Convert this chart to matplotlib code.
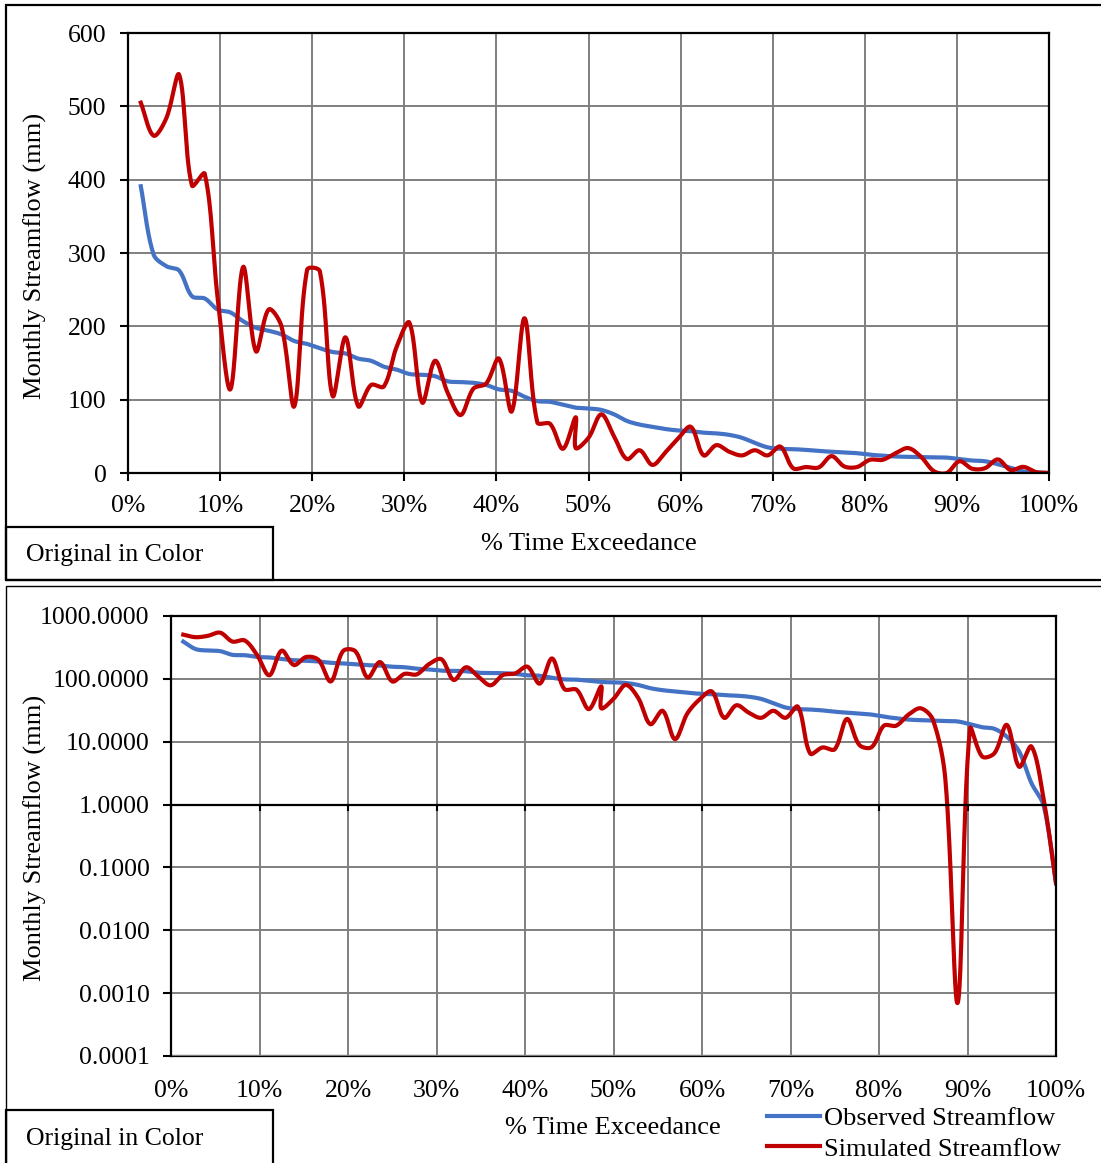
import numpy as np
import matplotlib
matplotlib.use('Agg')
import matplotlib.pyplot as plt
from matplotlib.patches import Rectangle
from matplotlib.lines import Line2D
from matplotlib.ticker import NullLocator

plt.rcParams['font.family'] = ['Liberation Serif', 'DejaVu Serif']

# monthly flows ranked by observed value (72 months, one tie at rank 35)
n_months = 72
ranks = list(range(1, 36)) + [35] + list(range(36, 73))

observed = [391, 298, 282, 276, 241, 238, 223, 219, 207, 198,
            194, 189, 180, 176, 170, 165, 163, 156, 153, 145,
            141, 135, 134, 132, 125, 124, 123, 120, 114, 112,
            104, 98, 97, 93, 89, 89, 88, 86, 80, 71,
            66, 63, 60, 58, 57, 55, 54, 52, 48, 41,
            35, 33, 32.5, 31.5, 30, 29, 28, 27, 25, 23.6,
            22.5, 22, 21.7, 21.3, 21, 19, 17, 16, 12, 7,
            2.2, 0.95, 0.056]

simulated = [505, 460, 484, 543, 392, 408, 240, 114, 281, 166,
             223, 200, 91, 277, 275, 105, 185, 91, 120, 118,
             172, 205, 96, 153, 109, 79, 115, 122, 156, 84,
             211, 69, 67, 33, 76, 34, 48, 80, 50, 19,
             31, 11, 28, 47, 63, 24, 38, 29, 24, 31,
             24, 36, 6.5, 8.1, 7.6, 23, 8.9, 8.2, 18, 18,
             27, 34, 22, 2.5, 0.0007, 16, 5.8, 6.6, 18.5, 4.0,
             8.4, 1.2, 0.056]

pct_ticks = [0, 10, 20, 30, 40, 50, 60, 70, 80, 90, 100]
lin_ticks = [0, 100, 200, 300, 400, 500, 600]
log_ticks = [0.0001, 0.001, 0.01, 0.1, 1, 10, 100, 1000]

BLUE = '#4472C4'
RED = '#C00000'
GRID = '#7f7f7f'
W, H = 1101, 1163

exceed = np.array(ranks) / n_months * 100


def smooth(ax, x, y, steps=30):
    # Excel-like smoothed line, built in screen space so it also works on log axes
    p = ax.transData.transform(np.column_stack([x, y]))
    p = np.vstack([p[0], p, p[-1]])
    t = np.linspace(0, 1, steps, endpoint=False)[:, None]
    out = []
    for i in range(1, len(p) - 2):
        p0, p1, p2, p3 = p[i - 1], p[i], p[i + 1], p[i + 2]
        d01 = np.hypot(*(p1 - p0))
        d12 = np.hypot(*(p2 - p1))
        d23 = np.hypot(*(p3 - p2))
        f1 = d12 / (d01 + d12) / 3 if d01 + d12 > 0 else 0
        f2 = d12 / (d12 + d23) / 3 if d12 + d23 > 0 else 0
        c1 = p1 + (p2 - p0) * f1
        c2 = p2 - (p3 - p1) * f2
        seg = (1 - t) ** 3 * p1 + 3 * (1 - t) ** 2 * t * c1 + 3 * (1 - t) * t ** 2 * c2 + t ** 3 * p2
        out.append(seg)
    out.append(p[-2][None, :])
    curve = ax.transData.inverted().transform(np.vstack(out))
    return curve[:, 0], curve[:, 1]


def style_axes(ax):
    ax.grid(True, color=GRID, lw=1.4)
    ax.set_axisbelow(True)
    for s in ax.spines.values():
        s.set_color('black')
        s.set_linewidth(1.6)
    ax.tick_params(axis='both', direction='out', length=5.5, width=1.5,
                   labelsize=18.5, colors='black')


fig = plt.figure(figsize=(W / 100, H / 100), dpi=100)

# ---------- top panel: linear ----------
ax1 = fig.add_axes([128 / W, 1 - 473 / H, 921 / W, 440 / H])
ax1.set_xlim(0, 100)
ax1.set_ylim(0, 600)
ax1.plot(*smooth(ax1, exceed, observed), color=BLUE, lw=3)
ax1.plot(*smooth(ax1, exceed, simulated), color=RED, lw=3)
ax1.set_xticks(pct_ticks)
ax1.set_xticklabels([f'{t}%' for t in pct_ticks])
ax1.set_yticks(lin_ticks)
style_axes(ax1)
ax1.tick_params(axis='y', pad=10)
ax1.tick_params(axis='x', pad=10)
fig.text(35 / W, 1 - 256 / H, 'Monthly Streamflow (mm)', fontsize=19,
         rotation=90, ha='center', va='center')
fig.text(589 / W, 1 - 544 / H, '% Time Exceedance', fontsize=19,
         ha='center', va='center')

# ---------- bottom panel: log ----------
ax2 = fig.add_axes([171 / W, 1 - 1056 / H, 885 / W, 440 / H])
ax2.set_yscale('log')
ax2.set_xlim(0, 100)
ax2.set_ylim(0.0001, 1000)
ax2.plot(*smooth(ax2, exceed, observed), color=BLUE, lw=3)
ax2.plot(*smooth(ax2, exceed, simulated), color=RED, lw=3)
ax2.set_yticks(log_ticks)
ax2.set_yticklabels([f'{v:.4f}' for v in log_ticks])
ax2.yaxis.set_minor_locator(NullLocator())
ax2.set_xticks(pct_ticks)
style_axes(ax2)
ax2.tick_params(axis='y', pad=10)
# x axis crosses at 1, labels sit at the bottom
ax2.spines['bottom'].set_position(('data', 1))
ax2.tick_params(axis='x', labelbottom=False, length=4.5)
sec = ax2.secondary_xaxis(0)
sec.set_xticks(pct_ticks)
sec.set_xticklabels([f'{t}%' for t in pct_ticks])
sec.tick_params(length=0, labelsize=18.5, pad=17)
sec.spines['bottom'].set_color('black')
sec.spines['bottom'].set_linewidth(1.6)
fig.text(35 / W, 1 - 838 / H, 'Monthly Streamflow (mm)', fontsize=19,
         rotation=90, ha='center', va='center')
fig.text(613 / W, 1 - 1128 / H, '% Time Exceedance', fontsize=19,
         ha='center', va='center')

handles = [Line2D([], [], color=BLUE, lw=3), Line2D([], [], color=RED, lw=3)]
fig.legend(handles, ['Observed Streamflow', 'Simulated Streamflow'],
           loc='upper left', bbox_to_anchor=(767 / W, 1 - 1107 / H),
           bbox_transform=fig.transFigure, frameon=False, fontsize=19,
           handlelength=2.0, handletextpad=0.15, labelspacing=0.25,
           borderpad=0, borderaxespad=0)

# ---------- panel frames and "Original in Color" boxes ----------
def frame(x0, y0, x1, y1, lw=1.3):
    fig.patches.append(Rectangle((x0 / W, 1 - y1 / H), (x1 - x0) / W, (y1 - y0) / H,
                                 transform=fig.transFigure, fill=False,
                                 ec='black', lw=lw))

frame(6, 5, 1110, 580, lw=1.6)
frame(6, 586, 1110, 1175, lw=1.0)
frame(6, 527, 273, 580, lw=1.6)
frame(6, 1110, 273, 1175, lw=1.6)
fig.text(26 / W, 1 - 555 / H, 'Original in Color', fontsize=18.5, va='center')
fig.text(26 / W, 1 - 1139 / H, 'Original in Color', fontsize=18.5, va='center')

fig.savefig('out.png', dpi=100)
